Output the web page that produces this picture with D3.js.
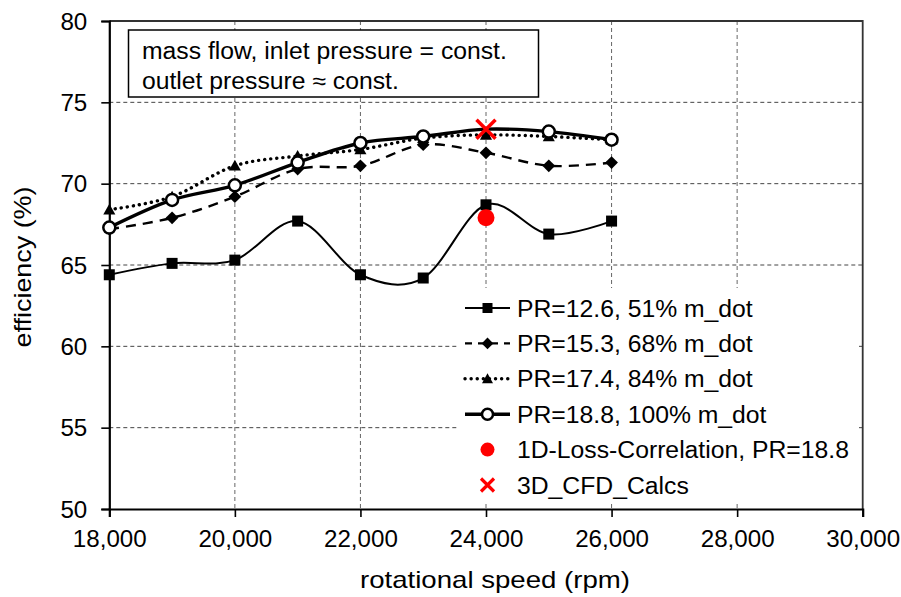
<!DOCTYPE html>
<html>
<head>
<meta charset="utf-8">
<script src="https://cdn.jsdelivr.net/npm/d3@7/dist/d3.min.js"></script>
<style>
  html, body { margin: 0; padding: 0; background: #fff; }
  svg { display: block; font-family: "Liberation Sans", Arial, sans-serif; }
</style>
</head>
<body>
<svg id="chart" width="901" height="597"></svg>
<script>
// Rotational speed (rpm) at which each operating line was evaluated
const speeds = [18000, 19000, 20000, 21000, 22000, 23000, 24000, 25000, 26000];

// Efficiency (%) for each pressure ratio / mass-flow operating line
const eff_PR126 = [64.4, 65.1, 65.3, 67.7, 64.4, 64.2, 68.7, 66.9, 67.7];
const eff_PR153 = [67.2, 67.9, 69.2, 70.9, 71.1, 72.4, 71.9, 71.1, 71.3];
const eff_PR174 = [68.4, 69.2, 71.1, 71.7, 72.1, 72.8, 73.0, 72.9, 72.7];
const eff_PR188 = [67.3, 69.0, 69.9, 71.3, 72.5, 72.9, 73.35, 73.2, 72.7];

// Single-point predictions at 24,000 rpm
const lossCorrSpeed = [24000];
const lossCorrEff = [67.9];
const cfdSpeed = [24000];
const cfdEff = [73.35];

const seriesLabels = [
  "PR=12.6, 51% m_dot",
  "PR=15.3, 68% m_dot",
  "PR=17.4, 84% m_dot",
  "PR=18.8, 100% m_dot"
];
const lossCorrLabel = "1D-Loss-Correlation, PR=18.8";
const cfdLabel = "3D_CFD_Calcs";

const xTicks = [18000, 20000, 22000, 24000, 26000, 28000, 30000];
const yTicks = [50, 55, 60, 65, 70, 75, 80];
const noteLines = ["mass flow, inlet pressure = const.", "outlet pressure \u2248 const."];

// ---------------------------------------------------------------
const svg = d3.select("#chart");
const plot = { left: 109.3, right: 862.7, top: 21, bottom: 509 };

const x = d3.scaleLinear().domain([18000, 30000]).range([plot.left, plot.right]);
const y = d3.scaleLinear().domain([50, 80]).range([plot.bottom, plot.top]);

// Widen rendered text slightly to the proportions of the original typeface
function stretch(sel, k) {
  sel.each(function () {
    const w = this.getComputedTextLength();
    d3.select(this).attr("textLength", w * k).attr("lengthAdjust", "spacingAndGlyphs");
  });
}

// Grid
const grid = svg.append("g").attr("class", "grid");
grid.selectAll("line.v").data(xTicks.slice(1, -1)).join("line")
  .attr("x1", d => x(d)).attr("x2", d => x(d))
  .attr("y1", plot.top).attr("y2", plot.bottom)
  .attr("stroke", "#666").attr("stroke-width", 1).attr("stroke-dasharray", "4,3");
grid.selectAll("line.h").data(yTicks.slice(1, -1)).join("line")
  .attr("x1", plot.left).attr("x2", plot.right)
  .attr("y1", d => y(d)).attr("y2", d => y(d))
  .attr("stroke", "#444").attr("stroke-width", 1).attr("stroke-dasharray", "4,3");

// Frame (top and right)
svg.append("path")
  .attr("d", `M${plot.left},${plot.top}H${plot.right}V${plot.bottom}`)
  .attr("fill", "none").attr("stroke", "#333").attr("stroke-width", 1.8);

// Axes
const xAxis = svg.append("g").attr("transform", `translate(0,${plot.bottom})`)
  .call(d3.axisBottom(x).tickValues(xTicks).tickFormat(d3.format(",")).tickSize(8).tickPadding(8));
const yAxis = svg.append("g").attr("transform", `translate(${plot.left},0)`)
  .call(d3.axisLeft(y).tickValues(yTicks).tickSize(8).tickPadding(14));
[xAxis, yAxis].forEach(a => {
  a.select(".domain").attr("stroke", "#000").attr("stroke-width", 2.2);
  a.selectAll(".tick line").attr("stroke", "#000").attr("stroke-width", 1.6);
  a.selectAll(".tick text").attr("fill", "#000")
    .style("font-family", "'Liberation Sans', Arial, sans-serif").style("font-size", "23px");
});
xAxis.selectAll(".tick text").attr("dy", null).attr("y", 38);
yAxis.selectAll(".tick text").attr("dy", null).attr("y", 8);
stretch(xAxis.selectAll(".tick text"), 1.05);
stretch(yAxis.selectAll(".tick text"), 1.05);

// Axis titles
const xTitle = svg.append("text").attr("x", 495).attr("y", 588)
  .attr("text-anchor", "middle").style("font-size", "24px").text("rotational speed (rpm)");
stretch(xTitle, 1.15);
const yTitle = svg.append("text")
  .attr("transform", "translate(31,267) rotate(-90)")
  .attr("text-anchor", "middle").style("font-size", "24px").text("efficiency (%)");
stretch(yTitle, 1.12);

// Note box
const note = svg.append("g");
note.append("rect").attr("x", 128.5).attr("y", 30).attr("width", 410).attr("height", 67)
  .attr("fill", "#fff").attr("stroke", "#000").attr("stroke-width", 1.5);
note.selectAll("text").data(noteLines).join("text")
  .attr("x", 142).attr("y", (d, i) => 59 + i * 30)
  .style("font-size", "23px").text(d => d)
  .call(s => stretch(s, 1.075));

// Series definitions
const series = [
  { values: eff_PR126, width: 2, dash: null, cap: "butt", marker: "square" },
  { values: eff_PR153, width: 2.4, dash: "10,7", cap: "butt", marker: "diamond" },
  { values: eff_PR174, width: 3.4, dash: "0.1,6", cap: "round", marker: "triangle" },
  { values: eff_PR188, width: 3.4, dash: null, cap: "butt", marker: "circle" }
];

const line = d3.line().x(d => x(d[0])).y(d => y(d[1])).curve(d3.curveCardinal.tension(0));

function drawMarker(g, type, cx, cy, s) {
  if (type === "square") {
    g.append("rect").attr("x", cx - s / 2).attr("y", cy - s / 2).attr("width", s).attr("height", s).attr("fill", "#000");
  } else if (type === "diamond") {
    const h = s * 0.58;
    g.append("path").attr("d", `M${cx},${cy - h}L${cx + h},${cy}L${cx},${cy + h}L${cx - h},${cy}Z`).attr("fill", "#000");
  } else if (type === "triangle") {
    const h = s * 0.55;
    g.append("path").attr("d", `M${cx},${cy - h}L${cx + h},${cy + h * 0.8}L${cx - h},${cy + h * 0.8}Z`).attr("fill", "#000");
  } else if (type === "circle") {
    g.append("circle").attr("cx", cx).attr("cy", cy).attr("r", s / 2)
      .attr("fill", "#fff").attr("stroke", "#000").attr("stroke-width", 2.5);
  }
}

function drawCross(g, cx, cy, h, w) {
  g.append("path")
    .attr("d", `M${cx - h},${cy - h}L${cx + h},${cy + h}M${cx + h},${cy - h}L${cx - h},${cy + h}`)
    .attr("stroke", "#ff0000").attr("stroke-width", w).attr("fill", "none");
}

const marks = svg.append("g");
series.forEach(s => {
  const pts = speeds.map((v, i) => [v, s.values[i]]);
  marks.append("path").attr("d", line(pts))
    .attr("fill", "none").attr("stroke", "#000").attr("stroke-width", s.width)
    .attr("stroke-dasharray", s.dash).attr("stroke-linecap", s.cap);
  const mg = marks.append("g");
  pts.forEach(p => {
    // the 3D CFD point takes the place of the marker at the same speed
    if (s.marker === "circle" && cfdSpeed.includes(p[0])) return;
    drawMarker(mg, s.marker, x(p[0]), y(p[1]), s.marker === "circle" ? 12 : 11);
  });
});

// 1D loss correlation point
marks.selectAll("circle.lc").data(lossCorrSpeed).join("circle")
  .attr("class", "lc").attr("cx", d => x(d)).attr("cy", (d, i) => y(lossCorrEff[i]))
  .attr("r", 8.5).attr("fill", "#ff0000");

// 3D CFD point
cfdSpeed.forEach((d, i) => drawCross(marks, x(d), y(cfdEff[i]), 9.5, 3.5));

// Legend
const legend = svg.append("g");
legend.append("rect").attr("x", 457).attr("y", 288).attr("width", 402).attr("height", 215).attr("fill", "#fff");
const rowY = i => 308 + i * 35.4;
const sx0 = 465, sx1 = 510, sxm = 487.5, tx = 517;
series.forEach((s, i) => {
  const g = legend.append("g");
  g.append("line").attr("x1", sx0).attr("x2", sx1).attr("y1", rowY(i)).attr("y2", rowY(i))
    .attr("stroke", "#000").attr("stroke-width", s.width)
    .attr("stroke-dasharray", s.dash === "10,7" ? "7,6" : s.dash).attr("stroke-linecap", s.cap);
  drawMarker(g, s.marker, sxm, rowY(i), s.marker === "circle" ? 11 : 10);
});
legend.append("circle").attr("cx", sxm).attr("cy", rowY(4)).attr("r", 7).attr("fill", "#ff0000");
drawCross(legend, sxm, rowY(5), 6.5, 3.2);
const legTexts = seriesLabels.concat([lossCorrLabel, cfdLabel]);
legend.selectAll("text").data(legTexts).join("text")
  .attr("x", tx).attr("y", (d, i) => rowY(i) + 8.5)
  .style("font-size", "23px").text(d => d)
  .call(s => stretch(s, 1.075));
</script>
</body>
</html>
